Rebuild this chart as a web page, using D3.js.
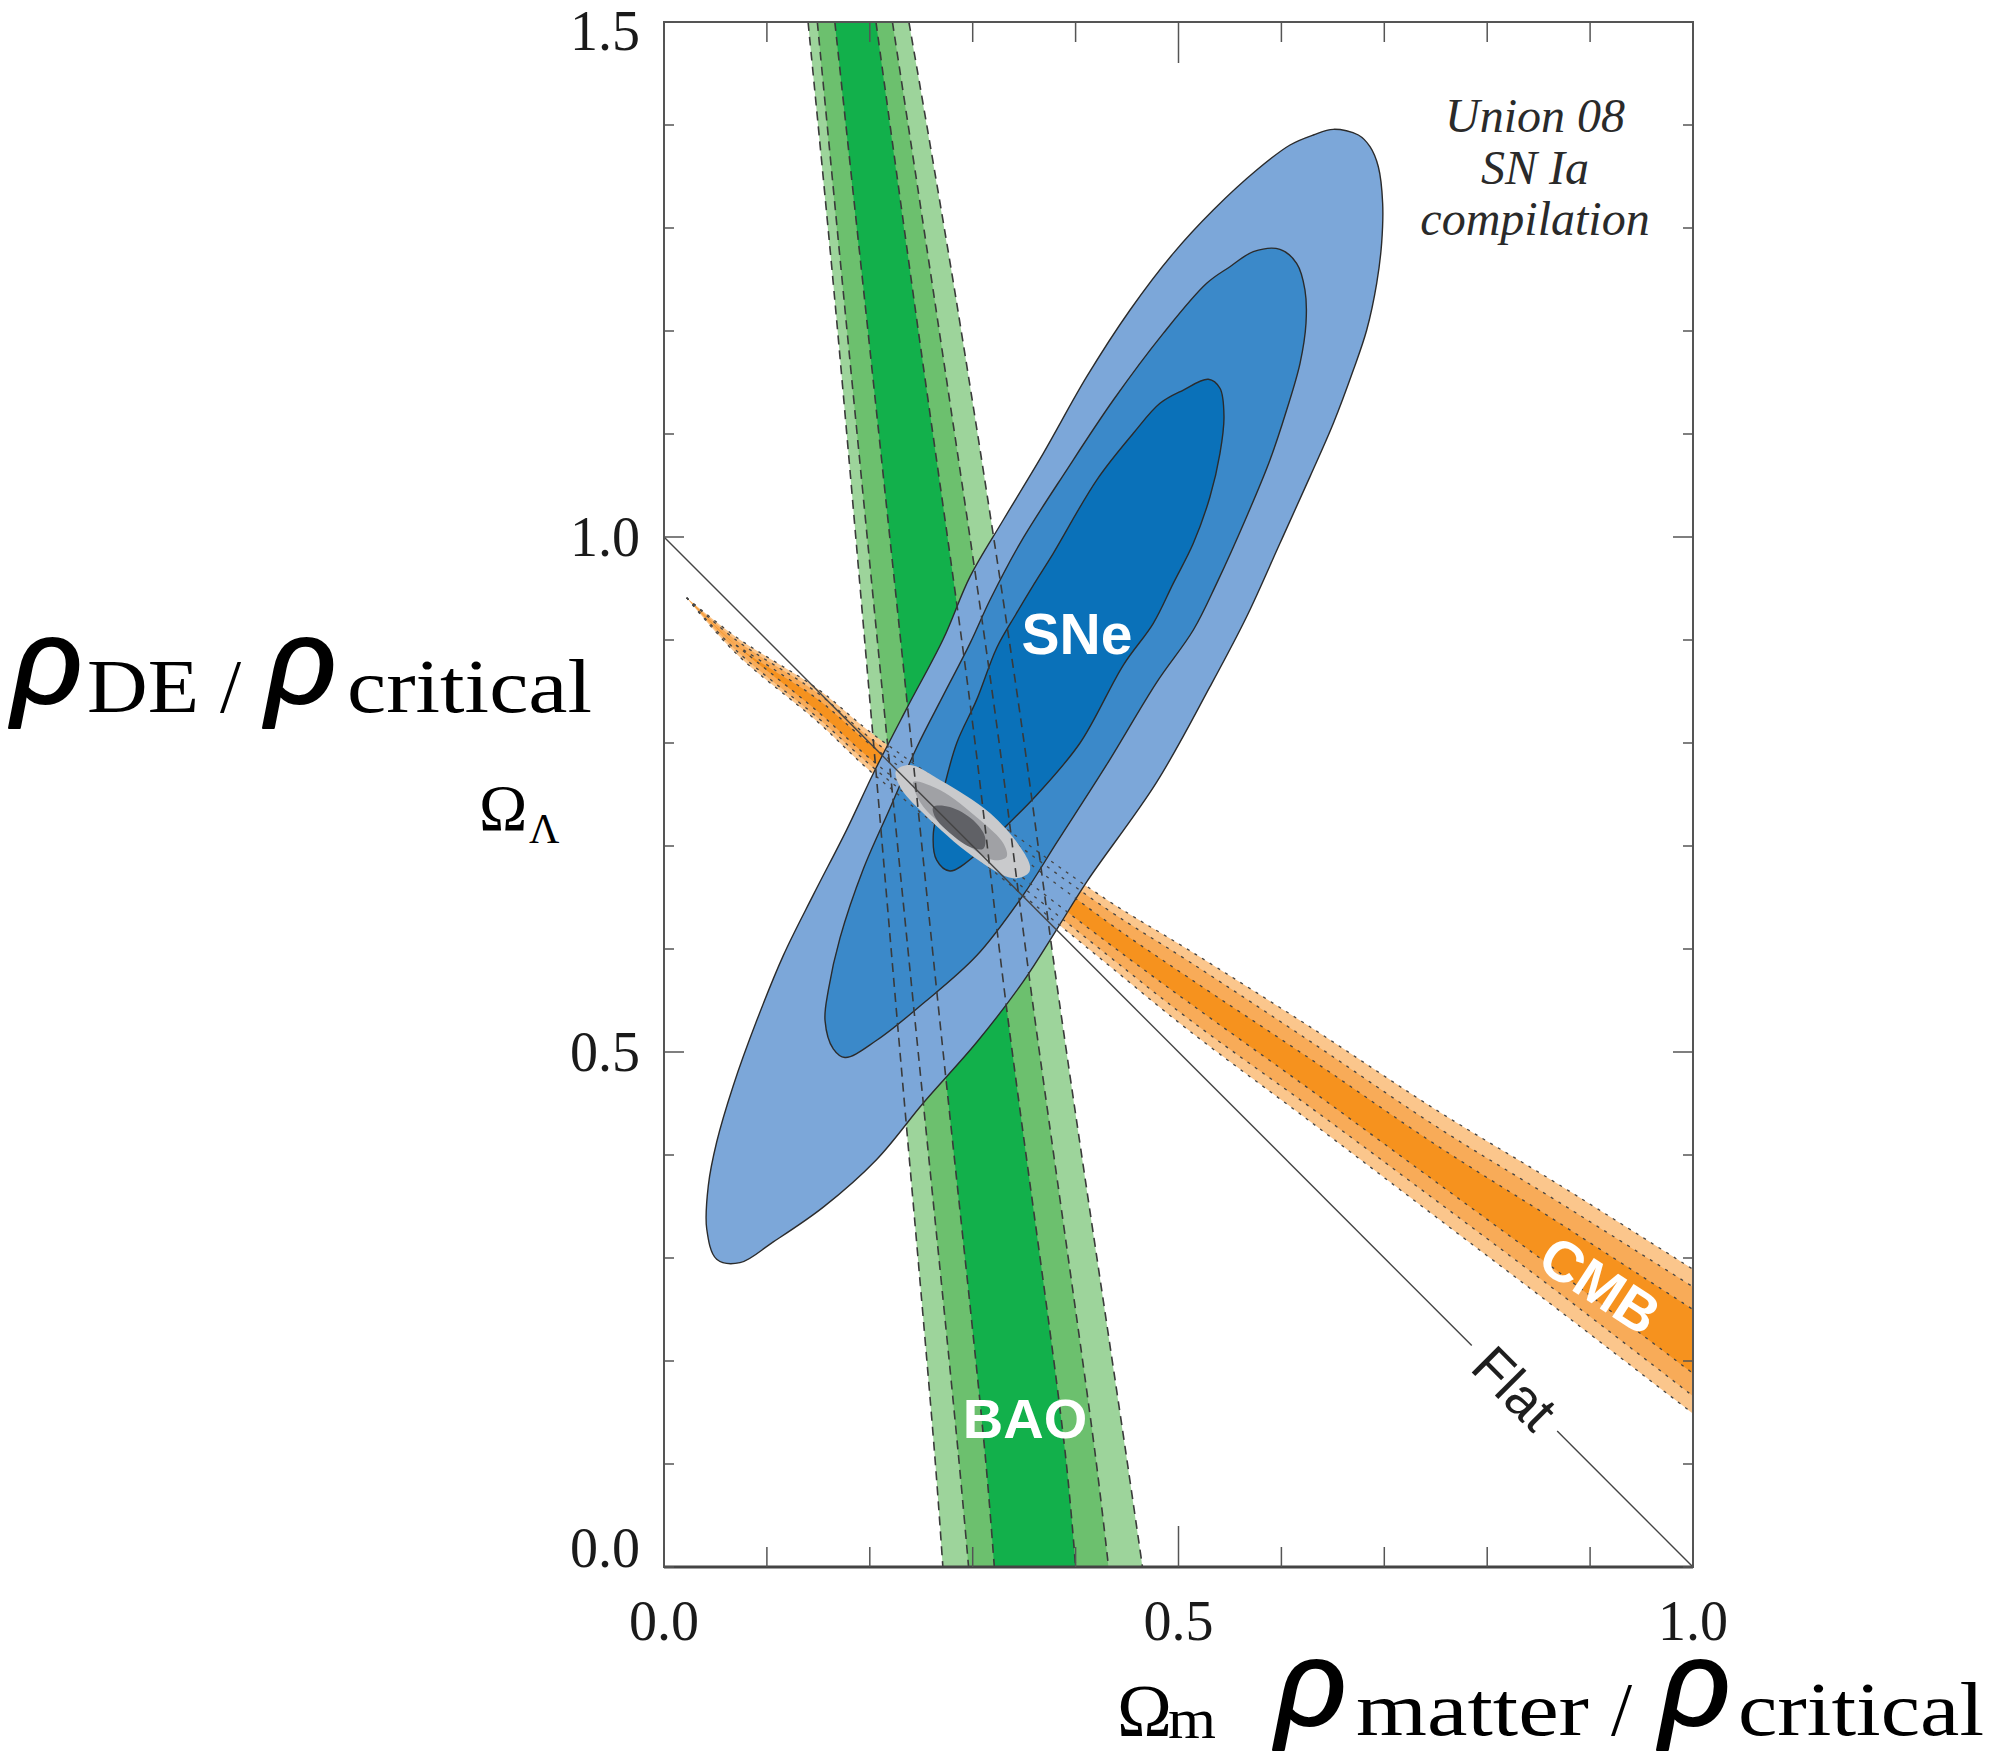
<!DOCTYPE html>
<html><head><meta charset="utf-8">
<script src="https://cdn.jsdelivr.net/npm/d3@7"></script>
<style>html,body{margin:0;padding:0;background:#fff;} svg{display:block}</style>
</head><body>
<svg id="chart" width="1996" height="1752"></svg>
<script>
// ---------------- DATA ----------------
// Axis ticks
const xTickValues = [0, 0.1, 0.2, 0.3, 0.4, 0.5, 0.6, 0.7, 0.8, 0.9, 1.0];
const xMajorTicks = [0.5];
const yTickValues = [0, 0.1, 0.2, 0.3, 0.4, 0.5, 0.6, 0.7, 0.8, 0.9, 1.0, 1.1, 1.2, 1.3, 1.4, 1.5];
const yMajorTicks = [0.5, 1.0];
const xTickLabels = [[0, "0.0"], [0.5, "0.5"], [1.0, "1.0"]];
const yTickLabels = [[0, "0.0"], [0.5, "0.5"], [1.0, "1.0"], [1.5, "1.5"]];

// BAO band: boundaries (Ωm) at given ΩΛ rows
const baoY          = [1.5,   1.23,  0.842, 0.55,  0.11,  0.0];
const baoOuterLeft  = [0.140, 0.166, 0.200, 0.225, 0.263, 0.271];
const baoMidLeft    = [0.149, 0.175, 0.213, 0.242, 0.286, 0.296];
const baoInnerLeft  = [0.166, 0.195, 0.236, 0.266, 0.312, 0.321];
const baoInnerRight = [0.206, 0.243, 0.297, 0.332, 0.390, 0.400];
const baoMidRight   = [0.222, 0.263, 0.320, 0.358, 0.419, 0.432];
const baoOuterRight = [0.238, 0.284, 0.344, 0.384, 0.449, 0.465];

// CMB band: centre line and vertical half-widths of the three levels
const cmbX       = [0.022, 0.07,  0.15,  0.20,  0.30,  0.43,  0.51,  0.63,  0.75,  0.87,  1.0];
const cmbCenter  = [0.941, 0.895, 0.836, 0.792, 0.716, 0.617, 0.560, 0.477, 0.392, 0.310, 0.219];
const cmbOuterHW = [0.0,   0.008, 0.016, 0.019, 0.024, 0.031, 0.039, 0.046, 0.052, 0.061, 0.070];
const cmbMidHW   = [0.0,   0.005, 0.012, 0.013, 0.017, 0.022, 0.028, 0.032, 0.036, 0.044, 0.053];
const cmbInnerHW = [0.0,   0.0,   0.006, 0.007, 0.009, 0.010, 0.012, 0.015, 0.018, 0.024, 0.031];

// SNe contours [Ωm, ΩΛ]
const sneOuter = [[0.6505,1.3958],[0.6748,1.3903],[0.6861,1.3790],[0.6942,1.3595],[0.6984,1.3240],[0.6974,1.2851],
  [0.6926,1.2463],[0.6829,1.2010],[0.6699,1.1621],[0.6505,1.1104],[0.6278,1.0586],[0.5986,0.9939],[0.5662,0.9226],
  [0.5306,0.8547],[0.4788,0.7620],[0.4108,0.6652],[0.3816,0.6189],[0.3492,0.5686],[0.3039,0.5094],[0.2520,0.4505],
  [0.2067,0.3957],[0.1548,0.3494],[0.1062,0.3157],[0.0739,0.2955],[0.0512,0.2988],[0.0415,0.3284],[0.0431,0.3705],
  [0.0512,0.4126],[0.0673,0.4673],[0.0901,0.5305],[0.1159,0.5936],[0.1451,0.6525],[0.1775,0.7157],[0.2034,0.7704],
  [0.2359,0.8336],[0.2714,0.9010],[0.2974,0.9615],[0.3297,1.0165],[0.3686,1.0812],[0.4108,1.1556],[0.4529,1.2204],
  [0.4949,1.2754],[0.5338,1.3175],[0.5760,1.3563],[0.6084,1.3806],[0.6310,1.3903]];
const sneMid = [[0.5986,1.2793],[0.6148,1.2657],[0.6229,1.2398],[0.6239,1.2075],[0.6181,1.1686],[0.6051,1.1233],
  [0.5889,1.0748],[0.5662,1.0197],[0.5371,0.9550],[0.5144,0.9097],[0.4788,0.8589],[0.4302,0.7789],[0.3816,0.7032],
  [0.3492,0.6525],[0.3039,0.5936],[0.2520,0.5473],[0.2067,0.5114],[0.1759,0.4947],[0.1645,0.5031],[0.1565,0.5305],
  [0.1597,0.5600],[0.1710,0.6105],[0.1937,0.6777],[0.2196,0.7367],[0.2456,0.7957],[0.2714,0.8462],[0.2974,0.8967],
  [0.3168,0.9388],[0.3460,0.9939],[0.3913,1.0650],[0.4367,1.1330],[0.4852,1.1977],[0.5274,1.2463],[0.5500,1.2624],
  [0.5727,1.2770]];
const sneInner = [[0.5290,1.1531],[0.5403,1.1444],[0.5442,1.1168],[0.5403,1.0812],[0.5306,1.0391],[0.5144,0.9939],
  [0.4949,0.9550],[0.4755,0.9162],[0.4464,0.8757],[0.4043,0.8000],[0.3622,0.7495],[0.3330,0.7199],[0.3050,0.6930],
  [0.2779,0.6757],[0.2650,0.6862],[0.2617,0.7114],[0.2714,0.7536],[0.2845,0.8000],[0.3039,0.8421],[0.3234,0.8925],
  [0.3420,0.9250],[0.3600,0.9550],[0.3783,0.9842],[0.4205,1.0553],[0.4561,1.1007],[0.4820,1.1298],[0.5047,1.1427]];

// Combined constraint (grey)
const combOuter = [[0.2255,0.7731],[0.2391,0.7786],[0.2682,0.7641],[0.3168,0.7320],[0.3460,0.6993],[0.3557,0.6806],
  [0.3540,0.6735],[0.3395,0.6686],[0.3006,0.6896],[0.2520,0.7317],[0.2293,0.7576]];
const combMid = [[0.2423,0.7624],[0.2682,0.7544],[0.3071,0.7252],[0.3297,0.7026],[0.3330,0.6896],[0.3200,0.6864],
  [0.2845,0.7090],[0.2520,0.7382],[0.2439,0.7528]];
const combInner = [[0.2617,0.7379],[0.2779,0.7379],[0.3006,0.7250],[0.3120,0.7087],[0.3103,0.6974],[0.2974,0.6990],
  [0.2747,0.7152],[0.2634,0.7282]];

// Flat universe line Ωm + ΩΛ = 1, with a gap for its label
const flatLine = [[0, 1], [1, 0]];
const flatGap = [0.785, 0.868];

const noteLines = ["Union 08", "SN Ia", "compilation"];

// ---------------- DRAWING ----------------
const pL = 664, pR = 1693, pT = 22, pB = 1567;
const x = d3.scaleLinear().domain([0, 1]).range([pL, pR]);
const y = d3.scaleLinear().domain([0, 1.5]).range([pB, pT]);

const svg = d3.select("#chart");
svg.append("defs").append("clipPath").attr("id", "plotclip")
  .append("rect").attr("x", pL).attr("y", pT).attr("width", pR - pL).attr("height", pB - pT);

const plot = svg.append("g").attr("clip-path", "url(#plotclip)");

// --- BAO fills
const baoCols = [baoOuterLeft, baoMidLeft, baoInnerLeft, baoInnerRight, baoMidRight, baoOuterRight];
const baoColors = ["#9dd49b", "#6cc06e", "#12b04b"];
const baoArea = d3.area().curve(d3.curveCatmullRom)
  .y(d => y(d.y)).x0(d => x(d.l)).x1(d => x(d.r));
[0, 1, 2].forEach(k => {
  const rows = baoY.map((v, i) => ({ y: v, l: baoCols[k][i], r: baoCols[5 - k][i] }));
  plot.append("path").attr("d", baoArea(rows)).attr("fill", baoColors[k]);
});

// --- CMB fills
const cmbHWs = [cmbOuterHW, cmbMidHW, cmbInnerHW];
const cmbColors = ["#fbc68c", "#f8ab58", "#f6921e"];
const cmbArea = d3.area().curve(d3.curveCatmullRom)
  .x(d => x(d.x)).y0(d => y(d.lo)).y1(d => y(d.hi));
cmbHWs.forEach((hw, k) => {
  const pts = cmbX.map((v, i) => ({ x: v, lo: cmbCenter[i] - hw[i], hi: cmbCenter[i] + hw[i] }));
  plot.append("path").attr("d", cmbArea(pts)).attr("fill", cmbColors[k]);
});

// --- SNe contours
const closed = d3.line().curve(d3.curveCatmullRomClosed.alpha(0.5)).x(d => x(d[0])).y(d => y(d[1]));
[[sneOuter, "#7ca7d9"], [sneMid, "#3b89c9"], [sneInner, "#0a71b9"]].forEach(([pts, c]) => {
  plot.append("path").attr("d", closed(pts)).attr("fill", c)
    .attr("stroke", "#2b2b2b").attr("stroke-width", 1.4).attr("stroke-linejoin", "round");
});

// --- CMB dotted boundaries
const hLine = d3.line().curve(d3.curveCatmullRom).x(d => x(d[0])).y(d => y(d[1]));
cmbHWs.forEach(hw => {
  let s = hw.findIndex(v => v > 0);
  s = Math.max(0, s - 1);
  [1, -1].forEach(sg => {
    const pts = cmbX.slice(s).map((v, j) => [v, cmbCenter[s + j] + sg * hw[s + j]]);
    plot.append("path").attr("d", hLine(pts))
      .attr("fill", "none").attr("stroke", "#444").attr("stroke-width", 1.3)
      .attr("stroke-dasharray", "3,6");
  });
});

// --- combined grey contours
[[combOuter, "#c9cacc"], [combMid, "#a0a1a5"], [combInner, "#606166"]].forEach(([pts, c]) => {
  plot.append("path").attr("d", closed(pts)).attr("fill", c);
});

// --- BAO dashed boundaries
const vLine = d3.line().curve(d3.curveCatmullRom).x(d => x(d[0])).y(d => y(d[1]));
baoCols.forEach(col => {
  plot.append("path").attr("d", vLine(col.map((v, i) => [v, baoY[i]])))
    .attr("fill", "none").attr("stroke", "#3a3a3a").attr("stroke-width", 1.6)
    .attr("stroke-dasharray", "9,6");
});

// --- Flat line with gap
const [p0, p1] = flatLine;
const flatAt = t => [p0[0] + (p1[0] - p0[0]) * t, p0[1] + (p1[1] - p0[1]) * t];
const seg = d3.line().x(d => x(d[0])).y(d => y(d[1]));
plot.append("path").attr("d", seg([p0, flatAt(flatGap[0])]))
  .attr("stroke", "#444").attr("stroke-width", 1.4).attr("fill", "none");
plot.append("path").attr("d", seg([flatAt(flatGap[1]), p1]))
  .attr("stroke", "#444").attr("stroke-width", 1.4).attr("fill", "none");

// --- in-plot labels
const sans = "Liberation Sans, Arial, sans-serif";
const serif = "Liberation Serif, Times New Roman, serif";
const flatMid = flatAt((flatGap[0] + flatGap[1]) / 2);
svg.append("text").text("Flat")
  .attr("transform", `translate(${x(flatMid[0])},${y(flatMid[1])}) rotate(45)`)
  .attr("text-anchor", "middle").attr("dominant-baseline", "central")
  .attr("font-family", sans).attr("font-size", 55).attr("fill", "#1e1e1e");

svg.append("text").text("CMB")
  .attr("transform", `translate(1600,1285) rotate(33)`)
  .attr("text-anchor", "middle").attr("dominant-baseline", "central")
  .attr("font-family", sans).attr("font-weight", "bold")
  .attr("font-size", 57).attr("fill", "#fff");

svg.append("text").text("SNe").attr("x", 1077).attr("y", 654)
  .attr("text-anchor", "middle").attr("font-family", sans)
  .attr("font-weight", "bold").attr("font-size", 57).attr("fill", "#fff");

svg.append("text").text("BAO").attr("x", 1025).attr("y", 1438)
  .attr("text-anchor", "middle").attr("font-family", sans)
  .attr("font-weight", "bold").attr("font-size", 56).attr("fill", "#fff");

noteLines.forEach((t, i) => {
  svg.append("text").text(t).attr("x", 1535).attr("y", 132 + i * 51.5)
    .attr("text-anchor", "middle").attr("font-family", serif)
    .attr("font-style", "italic").attr("font-size", 48).attr("fill", "#2a2a2a");
});

// --- frame and ticks
const axisColor = "#555";
svg.append("rect").attr("x", pL).attr("y", pT).attr("width", pR - pL).attr("height", pB - pT)
  .attr("fill", "none").attr("stroke", axisColor).attr("stroke-width", 2);
svg.append("line").attr("x1", pL).attr("x2", pR).attr("y1", pB).attr("y2", pB)
  .attr("stroke", "#444").attr("stroke-width", 3);

const ticks = svg.append("g").attr("stroke", axisColor).attr("stroke-width", 1.5);
xTickValues.forEach(v => {
  const L = xMajorTicks.includes(v) ? 41 : 20;
  ticks.append("line").attr("x1", x(v)).attr("x2", x(v)).attr("y1", pB).attr("y2", pB - L);
  ticks.append("line").attr("x1", x(v)).attr("x2", x(v)).attr("y1", pT).attr("y2", pT + L);
});
yTickValues.forEach(v => {
  const L = yMajorTicks.includes(v) ? 20 : 10;
  ticks.append("line").attr("x1", pL).attr("x2", pL + L).attr("y1", y(v)).attr("y2", y(v));
  ticks.append("line").attr("x1", pR).attr("x2", pR - L).attr("y1", y(v)).attr("y2", y(v));
});

// tick labels
xTickLabels.forEach(([v, t]) => {
  svg.append("text").text(t).attr("x", x(v)).attr("y", 1640)
    .attr("text-anchor", "middle").attr("font-family", serif).attr("font-size", 56).attr("fill", "#1a1a1a");
});
yTickLabels.forEach(([v, t]) => {
  const yy = Math.max(pT + 9, Math.min(pB - 19, y(v)));
  svg.append("text").text(t).attr("x", 640).attr("y", yy)
    .attr("text-anchor", "end").attr("dominant-baseline", "central")
    .attr("font-family", serif).attr("font-size", 56).attr("fill", "#1a1a1a");
});

// --- axis titles
function piece(t, px, py, size, fam, opts = {}) {
  const el = svg.append("text").text(t).attr("x", px).attr("y", py)
    .attr("font-family", fam).attr("font-size", size).attr("fill", "#000");
  if (opts.italic) el.attr("font-style", "italic");
  if (opts.thick) el.attr("stroke", "#000").attr("stroke-width", opts.thick).attr("stroke-linejoin", "round");
  if (opts.len) el.attr("textLength", opts.len).attr("lengthAdjust", "spacingAndGlyphs");
  return el;
}
const rhoOpts = { italic: true, thick: 2, len: 70 };
// y title: ρDE / ρcritical  and ΩΛ
piece("ρ", 12, 703, 120, sans, rhoOpts);
piece("DE", 87, 712, 76, serif, { len: 112 });
piece("/", 220, 712, 76, serif);
piece("ρ", 266, 703, 120, sans, rhoOpts);
piece("critical", 347, 712, 76, serif, { len: 245 });
piece("Ω", 479, 830, 65, serif);
piece("Λ", 529, 843, 42, serif);

// x title: Ωm  ρmatter / ρcritical
piece("Ω", 1117, 1736, 74, serif);
piece("m", 1168, 1738, 58, serif, { len: 48 });
piece("ρ", 1276, 1725, 120, sans, rhoOpts);
piece("matter", 1356, 1735, 76, serif, { len: 233 });
piece("/", 1611, 1735, 76, serif);
piece("ρ", 1660, 1725, 120, sans, rhoOpts);
piece("critical", 1738, 1735, 76, serif, { len: 246 });
</script>
</body></html>
